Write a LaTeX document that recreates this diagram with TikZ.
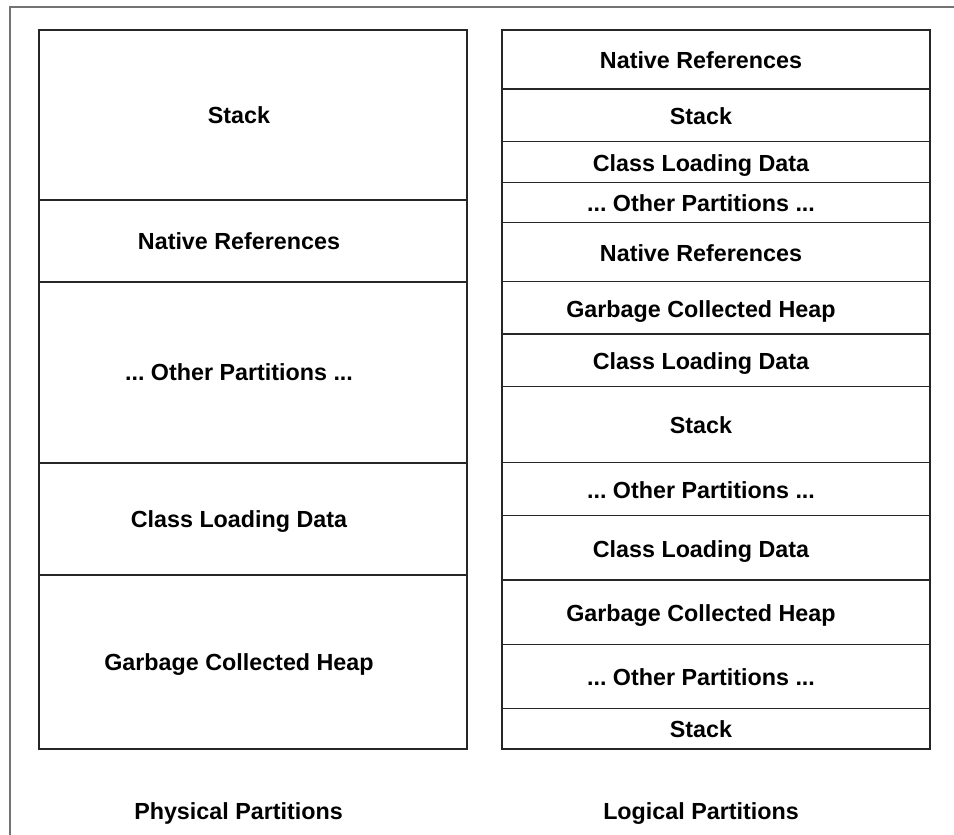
\documentclass[tikz,border=0pt]{standalone}
\usepackage{fontspec}
\setmainfont{Liberation Sans}
\frenchspacing
\newcommand\otherpart{... Other Partitions ...}
\begin{document}
\begin{tikzpicture}[x=1pt,y=-1pt,
  lbl/.style={font=\fontsize{23.3}{28}\selectfont\bfseries, text height=16.5pt, text depth=0pt, inner sep=0pt},
  part/.style={draw=black!85, line width=1.1pt}]
\useasboundingbox (0,0) rectangle (954,835);
\draw[black!55, line width=2pt] (9.5,900) -- (9.5,6.5) -- (1000,6.5);
% physical partitions
\foreach \a/\b/\t/\n in {30/200/Stack/ps,
                         200/282/Native References/pn,
                         282/463/\otherpart/po,
                         463/575/Class Loading Data/pc,
                         575/749/Garbage Collected Heap/pg}{
  \draw[part] (39,\a) rectangle (467,\b);
  \node[lbl] (\n) at (239,{(\a+\b)/2}) {\t};
}
% logical partitions
\foreach \a/\b/\t/\n in {30/89/Native References/l1,
                         89/141.7/Stack/l2,
                         141.7/182.7/Class Loading Data/l3,
                         182.7/222.7/\otherpart/l4,
                         222.7/281.7/Native References/l5,
                         281.7/334/Garbage Collected Heap/l6,
                         334/386.7/Class Loading Data/l7,
                         386.7/462.3/Stack/l8,
                         462.3/515.7/\otherpart/l9,
                         515.7/580/Class Loading Data/l10,
                         580/644.3/Garbage Collected Heap/l11,
                         644.3/708.3/\otherpart/l12,
                         708.3/749/Stack/l13}{
  \draw[part] (502,\a) rectangle (930,\b);
  \node[lbl] (\n) at (701,{(\a+\b)/2+1}) {\t};
}
\node[lbl] (phys) at (238.5,811) {Physical Partitions};
\node[lbl] (logi) at (701,811) {Logical Partitions};
\end{tikzpicture}
\end{document}
